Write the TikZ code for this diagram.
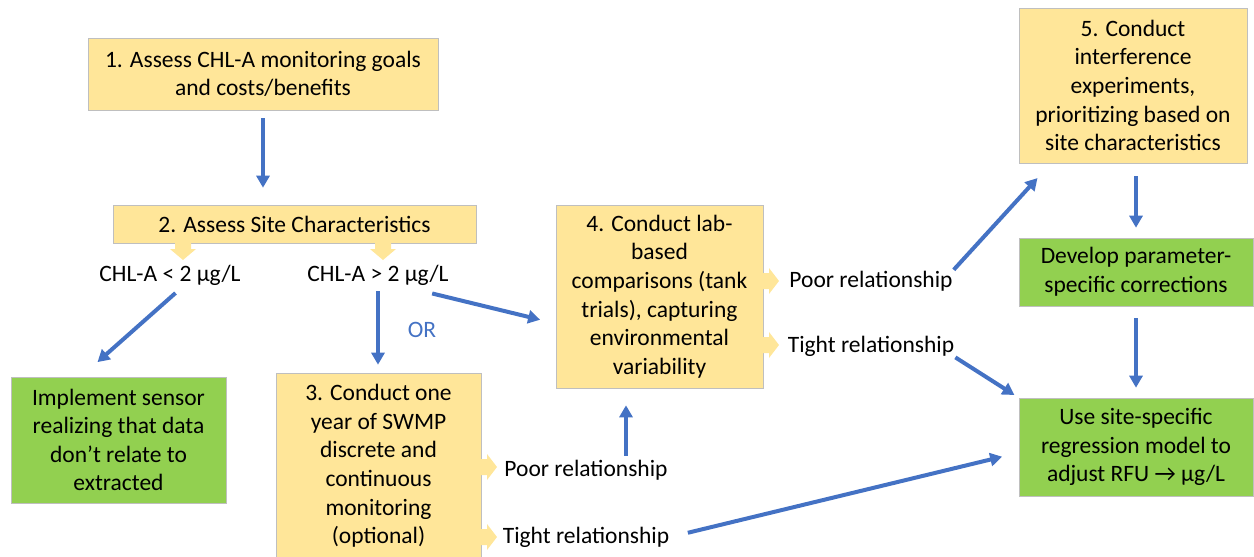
\documentclass[tikz,border=0pt]{standalone}
\usepackage{fontspec}
\setmainfont{Carlito}
\usetikzlibrary{arrows.meta}
\definecolor{boxyellow}{HTML}{FFE699}
\definecolor{boxgreen}{HTML}{92D050}
\definecolor{flowblue}{HTML}{4472C4}

\tikzset{
  ybox/.style={draw=black!25, line width=0.6pt, fill=boxyellow, align=center, inner sep=0pt},
  gbox/.style={ybox, fill=boxgreen},
  lbl/.style={inner sep=1pt},
  flow/.style={->, draw=flowblue, line width=4pt},
  chevdown/.pic={\fill[boxyellow] (-8,0) -- (-8,6) -- (-13,6) -- (0,17) -- (13,6) -- (8,6) -- (8,0) -- cycle;},
  chevright/.pic={\fill[boxyellow] (0,-8) -- (6,-8) -- (6,-13) -- (16,0) -- (6,13) -- (6,8) -- (0,8) -- cycle;},
}

\begin{document}
\begin{tikzpicture}[x=1pt, y=-1pt, >={Triangle[length=12pt,width=13pt]},
  every node/.style={font=\fontsize{23.5}{28.6}\selectfont}]
  \useasboundingbox (0,0) rectangle (1254,557);

  \node[ybox, minimum width=350pt, minimum height=72pt] (s1) at (263,74) {1. Assess CHL-A monitoring goals\\and costs/benefits};
  \node[ybox, minimum width=363pt, minimum height=38pt] (s2) at (294.5,224) {2. Assess Site Characteristics};
  \node[lbl] (lowA) at (170,275) {CHL-A < 2 µg/L};
  \node[lbl] (highA) at (378,275) {CHL-A > 2 µg/L};
  \node[lbl, text=flowblue] (orlbl) at (422,330) {OR};
  \node[gbox, minimum width=215pt, minimum height=126pt] (impl) at (118.5,440) {Implement sensor\\realizing that data\\don’t relate to\\extracted};
  \node[ybox, minimum width=205pt, minimum height=186pt] (s3) at (378.5,466) {3. Conduct one\\year of SWMP\\discrete and\\continuous\\monitoring\\(optional)};
  \node[ybox, minimum width=207pt, minimum height=183pt] (s4) at (659.5,296.5) {4. Conduct lab-\\based\\comparisons (tank\\trials), capturing\\environmental\\variability};
  \node[lbl] (poor3) at (586,470) {Poor relationship};
  \node[lbl] (tight3) at (586,537) {Tight relationship};
  \node[lbl] (poor4) at (871,281) {Poor relationship};
  \node[lbl] (tight4) at (871,346) {Tight relationship};
  \node[ybox, minimum width=228pt, minimum height=155pt] (s5) at (1133,85.5) {5. Conduct\\interference\\experiments,\\prioritizing based on\\site characteristics};
  \node[gbox, minimum width=234pt, minimum height=68pt] (dev) at (1136,272) {Develop parameter-\\specific corrections};
  \node[gbox, minimum width=234pt, minimum height=98pt] (useb) at (1136,447) {Use site-specific\\regression model to\\adjust RFU → µg/L};

  \pic at (183,243) {chevdown};
  \pic at (383,243) {chevdown};
  \pic at (481,467) {chevright};
  \pic at (481,537) {chevright};
  \pic at (763,281) {chevright};
  \pic at (763,345) {chevright};

  \draw[flow, shorten <=8pt, shorten >=17pt] (s1.south) -- (s1.south |- s2.north);
  \draw[flow, shorten <=10pt, shorten >=22pt] ([xshift=13pt]lowA.south) -- ([xshift=-37.5pt]impl.north);
  \draw[flow, shorten <=5pt, shorten >=8pt] (highA.south) -- (highA.south |- s3.north);
  \draw[flow, shorten <=30pt, shorten >=16pt] ([xshift=25pt]highA.south) -- ([yshift=-27pt]s4.west);
  \draw[flow, shorten <=3pt, shorten >=17pt] ([xshift=40pt]poor3.north) -- ([xshift=40pt]poor3.north |- s4.south);
  \draw[flow, shorten <=18pt, shorten >=17pt] (tight3.east) -- ([yshift=-5.7pt]useb.west);
  \draw[flow, shorten >=20pt] (poor4.north east) -- ([xshift=-82pt]s5.south);
  \draw[flow, shorten >=5pt] (tight4.south east) -- (useb.north west);
  \draw[flow, shorten <=13pt, shorten >=10pt] (dev.north |- s5.south) -- (dev.north);
  \draw[flow, shorten <=12pt, shorten >=10pt] (dev.south) -- (useb.north);
\end{tikzpicture}
\end{document}
